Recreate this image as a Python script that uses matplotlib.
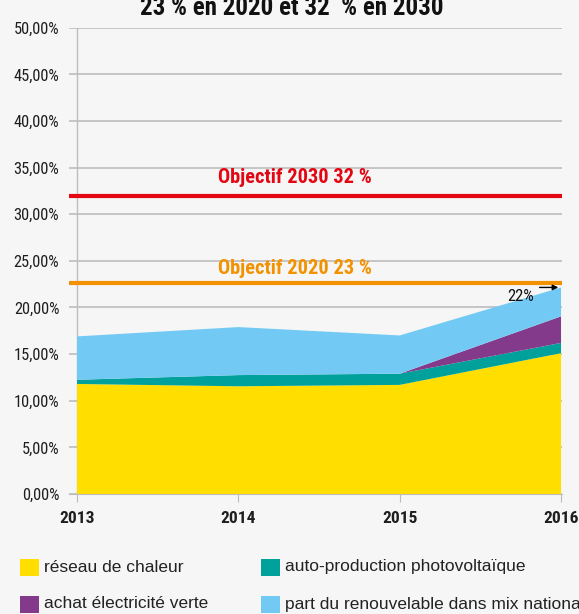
import matplotlib
matplotlib.use("Agg")
import matplotlib.pyplot as plt
import matplotlib.font_manager as fm
from matplotlib.patches import Rectangle

years = [2013, 2014, 2015, 2016]
reseau_chaleur = [11.8, 11.55, 11.7, 15.1]
auto_production = [0.45, 1.2, 1.2, 1.1]
achat_verte = [0.0, 0.0, 0.0, 2.85]
part_renouvelable = [4.65, 5.15, 4.1, 3.1]
series_labels = ["réseau de chaleur", "auto-production photovoltaïque",
                 "achat électricité verte", "part du renouvelable dans mix national"]
colors = ["#FFDE00", "#00A19A", "#833A8A", "#72CAF4"]
objectif_2030 = 32.0
objectif_2020 = 22.6
yticks = [0, 5, 10, 15, 20, 25, 30, 35, 40, 45, 50]
ytick_labels = ["0,00%", "5,00%", "10,00%", "15,00%", "20,00%", "25,00%",
                "30,00%", "35,00%", "40,00%", "45,00%", "50,00%"]
title = "23 % en 2020 et 32  % en 2030"


def pick_condensed(bold):
    prefs = ["roboto", "opensans", "open", "noto", "liberation", "dejavu", "lato", "inter"]
    cands = []
    for f in fm.fontManager.ttflist:
        low = f.fname.lower().replace(" ", "").replace("_", "").replace("-", "")
        if not ("condensed" in low or "narrow" in low):
            continue
        if any(k in low for k in ["extracondensed", "ultracondensed", "semicondensed",
                                  "italic", "oblique", "light", "thin", "medium",
                                  "black", "semibold", "extrabold", "ultrabold", "heavy"]):
            continue
        isb = "bold" in low
        if isb != bold:
            continue
        rank = next((i for i, p in enumerate(prefs) if p in low), len(prefs))
        cands.append((rank, f.fname))
    if cands:
        cands.sort()
        return fm.FontProperties(fname=cands[0][1])
    return fm.FontProperties(family=["Liberation Sans", "DejaVu Sans"],
                             weight="bold" if bold else "normal")


fp_reg = pick_condensed(False)
fp_bold = pick_condensed(True)
fp_leg = fm.FontProperties(family=["Liberation Sans", "DejaVu Sans"])

bg = "#F6F6F6"
W, H = 579, 614
fig = plt.figure(figsize=(W/100, H/100), dpi=100, facecolor=bg)

ax = fig.add_axes([69/W, 1-494/H, (562-69)/W, (494-27.7)/H])
ax.set_facecolor(bg)
ax.stackplot(years, reseau_chaleur, auto_production, achat_verte, part_renouvelable,
             colors=colors, linewidth=0, zorder=3)
ax.set_xlim(2012.95, 2016.006)
ax.set_ylim(0, 50)
ax.set_yticks(yticks)
ax.set_yticklabels(ytick_labels, color="#1E1E1E")
for t in ax.get_yticklabels():
    t.set_fontproperties(fp_reg)
    t.set_fontsize(11.8)
ax.set_xticks(years)
ax.set_xticklabels([str(y) for y in years], color="#1E1E1E")
for t in ax.get_xticklabels():
    t.set_fontproperties(fp_bold)
    t.set_fontsize(12.5)
ax.tick_params(axis="y", length=0, pad=7)
ax.tick_params(axis="x", length=6, color="#BBBBBB", pad=6)
ax.grid(axis="y", color="#BDBDBD", linewidth=1.2, zorder=1)
for s in ["top", "right", "left"]:
    ax.spines[s].set_visible(False)
ax.spines["bottom"].set_color("#BDBDBD")
ax.axvline(2013, color="#BDBDBD", linewidth=1, zorder=2)

ax.axhline(objectif_2030, color="#E30613", linewidth=3, zorder=4)
ax.axhline(objectif_2020, color="#F39200", linewidth=3, zorder=4)
ax.text(2014.35, objectif_2030 + 0.9, "Objectif 2030 32 %", color="#E30613",
        fontproperties=fp_bold, fontsize=14.7, ha="center", va="bottom")
ax.text(2014.35, objectif_2020 + 0.6, "Objectif 2020 23 %", color="#F39200",
        fontproperties=fp_bold, fontsize=14.7, ha="center", va="bottom")

total_2016 = reseau_chaleur[-1] + auto_production[-1] + achat_verte[-1] + part_renouvelable[-1]
ax.annotate("", xy=(2016, total_2016), xytext=(2015.85, total_2016),
            arrowprops=dict(arrowstyle="-|>", color="black", lw=1, mutation_scale=8), zorder=6)
ax.text(2015.835, total_2016 - 1.0, "22%", fontproperties=fp_reg, fontsize=12,
        color="#111111", ha="right", va="center", zorder=6)

fig.text(292/W, 1-15/H, title, fontproperties=fp_bold, fontsize=18, ha="center",
         va="baseline", color="#111111")

# legend
pos = [(20, 567), (261, 567), (20, 604), (261, 604)]
for (x, y), i in zip(pos, range(4)):
    fig.patches.append(Rectangle((x/W, 1-(y+8.5)/H), 19/W, 17/H, transform=fig.transFigure,
                                 facecolor=colors[i], edgecolor="none"))
    fig.text((x+24)/W, 1-y/H, series_labels[i], fontproperties=fp_leg, fontsize=12.5,
             va="center", ha="left", color="#222222")

fig.savefig("out.png", dpi=100, facecolor=bg)
